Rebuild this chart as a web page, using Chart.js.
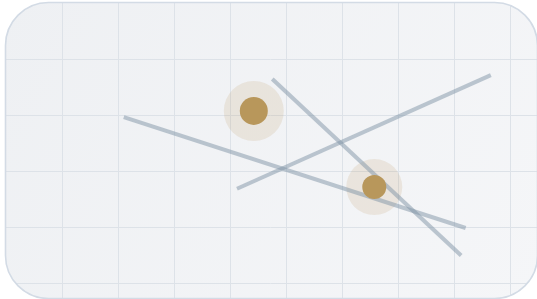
<!DOCTYPE html>
<html>
<head>
<meta charset="utf-8">
<style>
  html, body { margin: 0; padding: 0; background: #ffffff; }
  #c { display: block; }
</style>
<script src="https://cdn.jsdelivr.net/npm/chart.js@4/dist/chart.umd.min.js"></script>
</head>
<body>
<canvas id="c" width="537" height="299"></canvas>
<script>
// ---- data ----
const xTicks = [1, 2, 3, 4, 5, 6, 7, 8, 9];
const yTicks = [0, 1, 2, 3, 4];
const xRange = [-0.119, 9.464];
const yRange = [-0.268, 5.071];

const lineA = [{x: 2.09, y: 2.98}, {x: 8.19, y: 1.00}];
const lineB = [{x: 4.11, y: 1.70}, {x: 8.64, y: 3.73}];
const lineC = [{x: 4.74, y: 3.66}, {x: 8.11, y: 0.51}];
const markerX = [4.41, 6.56];
const markerY = [3.09, 1.73];
const markerSize = [14, 12];
const haloSize = [30, 28];

const markers = markerX.map((x, i) => ({x: x, y: markerY[i]}));

// ---- styles ----
const lineColor = 'rgba(128,148,166,0.5)';
const gold = '#b8975b';
const halo = 'rgba(184,151,91,0.16)';
const gridColor = '#dde2e8';

function roundRectPath(ctx, x, y, w, h, r) {
  ctx.beginPath();
  ctx.moveTo(x + r, y);
  ctx.lineTo(x + w - r, y);
  ctx.arcTo(x + w, y, x + w, y + r, r);
  ctx.lineTo(x + w, y + h - r);
  ctx.arcTo(x + w, y + h, x + w - r, y + h, r);
  ctx.lineTo(x + r, y + h);
  ctx.arcTo(x, y + h, x, y + h - r, r);
  ctx.lineTo(x, y + r);
  ctx.arcTo(x, y, x + r, y, r);
  ctx.closePath();
}

const panel = {
  id: 'panel',
  beforeDraw(chart) {
    const ctx = chart.ctx;
    ctx.save();
    roundRectPath(ctx, 5.5, 2.5, 532, 296, 43);
    const g = ctx.createLinearGradient(0, 0, 537, 299);
    g.addColorStop(0, '#eef0f3');
    g.addColorStop(1, '#f5f6f8');
    ctx.fillStyle = g;
    ctx.fill();
    ctx.clip();
  },
  afterDraw(chart) {
    const ctx = chart.ctx;
    ctx.restore();
    ctx.save();
    roundRectPath(ctx, 5.5, 2.5, 532, 296, 43);
    ctx.strokeStyle = '#d3dbe5';
    ctx.lineWidth = 1.6;
    ctx.stroke();
    ctx.restore();
  }
};

function lineDs(data) {
  return {
    data: data, showLine: true, borderColor: lineColor, borderWidth: 4,
    pointRadius: 0, pointHoverRadius: 0, borderCapStyle: 'butt', order: 1, clip: false
  };
}

new Chart(document.getElementById('c'), {
  type: 'scatter',
  data: {
    datasets: [
      {
        data: markers, pointRadius: markerSize, pointHoverRadius: markerSize,
        backgroundColor: gold, borderWidth: 0, order: 0, clip: false
      },
      lineDs(lineA),
      lineDs(lineB),
      lineDs(lineC),
      {
        data: markers, pointRadius: haloSize, pointHoverRadius: haloSize,
        backgroundColor: halo, borderWidth: 0, order: 2, clip: false
      }
    ]
  },
  options: {
    responsive: false,
    animation: false,
    devicePixelRatio: 1,
    events: [],
    layout: { padding: 0, autoPadding: false },
    plugins: { legend: { display: false }, tooltip: { enabled: false } },
    scales: {
      x: {
        type: 'linear', min: xRange[0], max: xRange[1],
        afterBuildTicks: s => { s.ticks = xTicks.map(v => ({value: v})); },
        ticks: { display: false },
        border: { display: false },
        grid: { color: gridColor, lineWidth: 1, drawTicks: false, tickLength: 0 }
      },
      y: {
        type: 'linear', min: yRange[0], max: yRange[1],
        afterBuildTicks: s => { s.ticks = yTicks.map(v => ({value: v})); },
        ticks: { display: false },
        border: { display: false },
        grid: { color: gridColor, lineWidth: 1, drawTicks: false, tickLength: 0 }
      }
    }
  },
  plugins: [panel]
});
</script>
</body>
</html>
